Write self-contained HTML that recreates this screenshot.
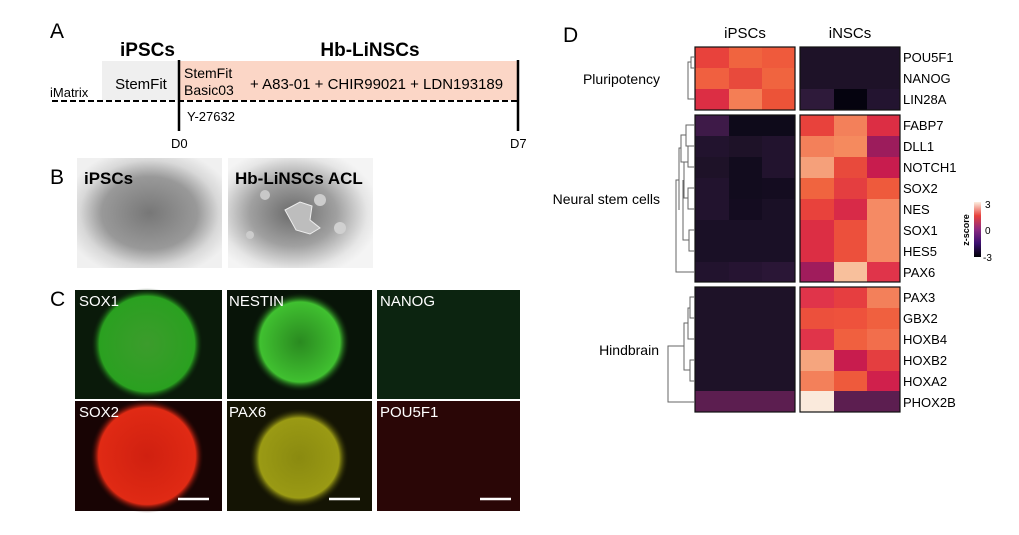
<!DOCTYPE html>
<html><head><meta charset="utf-8"><style>
html,body{margin:0;padding:0;background:#fff;width:1019px;height:535px;overflow:hidden}
svg{display:block;font-family:"Liberation Sans",Arial,sans-serif}
</style></head><body>
<svg width="1019" height="535" viewBox="0 0 1019 535" xmlns="http://www.w3.org/2000/svg">
<defs>
<radialGradient id="gB1" cx="0.5" cy="0.5" r="0.6"><stop offset="0" stop-color="#777"/><stop offset="0.55" stop-color="#999"/><stop offset="0.8" stop-color="#d8d8d8"/><stop offset="1" stop-color="#f0f0f0"/></radialGradient>
<radialGradient id="gB2" cx="0.45" cy="0.5" r="0.6"><stop offset="0" stop-color="#6a6a6a"/><stop offset="0.5" stop-color="#a0a0a0"/><stop offset="0.85" stop-color="#e6e6e6"/><stop offset="1" stop-color="#f4f4f4"/></radialGradient>
<radialGradient id="gG"><stop offset="0" stop-color="#3c9c2c"/><stop offset="0.85" stop-color="#2aa020"/><stop offset="1" stop-color="#0a1a0a" stop-opacity="0"/></radialGradient>
<radialGradient id="gN"><stop offset="0" stop-color="#2a8a20"/><stop offset="0.8" stop-color="#40c030"/><stop offset="1" stop-color="#081408" stop-opacity="0"/></radialGradient>
<radialGradient id="gR"><stop offset="0" stop-color="#d02010"/><stop offset="0.85" stop-color="#e02a14"/><stop offset="1" stop-color="#180404" stop-opacity="0"/></radialGradient>
<radialGradient id="gY"><stop offset="0" stop-color="#8a8a10"/><stop offset="0.8" stop-color="#9a9a14"/><stop offset="1" stop-color="#141404" stop-opacity="0"/></radialGradient>
<linearGradient id="cb" x1="0" y1="1" x2="0" y2="0"><stop offset="0" stop-color="#000004"/><stop offset="0.25" stop-color="#3b0f70"/><stop offset="0.5" stop-color="#8c2981"/><stop offset="0.75" stop-color="#e8423c"/><stop offset="1" stop-color="#fcefe0"/></linearGradient>
</defs>

<!-- Panel A -->
<text x="50" y="38" font-size="21">A</text>
<text x="120" y="56" font-size="19" font-weight="bold">iPSCs</text>
<text x="370" y="56" font-size="19" font-weight="bold" text-anchor="middle">Hb-LiNSCs</text>
<rect x="102" y="61" width="77" height="39" fill="#efefef"/>
<rect x="179" y="61" width="339" height="39" fill="#fbd6c6"/>
<line x1="52" y1="101" x2="518" y2="101" stroke="#000" stroke-width="2" stroke-dasharray="6,3"/>
<line x1="179" y1="60" x2="179" y2="131" stroke="#000" stroke-width="2.5"/>
<line x1="518" y1="60" x2="518" y2="131" stroke="#000" stroke-width="2.5"/>
<text x="50" y="97" font-size="13">iMatrix</text>
<text x="141" y="89" font-size="15" text-anchor="middle">StemFit</text>
<text x="184" y="78" font-size="14">StemFit</text>
<text x="184" y="95" font-size="14">Basic03</text>
<text x="250" y="89" font-size="15">+ A83-01 + CHIR99021 + LDN193189</text>
<text x="187" y="121" font-size="13">Y-27632</text>
<text x="171" y="148" font-size="13">D0</text>
<text x="510" y="148" font-size="13">D7</text>

<!-- Panel B -->
<text x="50" y="184" font-size="21">B</text>
<rect x="77" y="158" width="145" height="110" fill="url(#gB1)"/>
<rect x="228" y="158" width="145" height="110" fill="url(#gB2)"/>
<path d="M285 210 l15 -8 l12 4 l-2 14 l10 8 l-10 6 l-14 -4 z" fill="#bdbdbd" stroke="#eee"/>
<circle cx="265" cy="195" r="5" fill="#c8c8c8"/><circle cx="320" cy="200" r="6" fill="#ccc"/><circle cx="250" cy="235" r="4" fill="#ccc"/><circle cx="340" cy="228" r="6" fill="#d0d0d0"/>
<text x="84" y="184" font-size="17" font-weight="bold">iPSCs</text>
<text x="235" y="184" font-size="17" font-weight="bold">Hb-LiNSCs ACL</text>

<!-- Panel C -->
<text x="50" y="306" font-size="21">C</text>
<rect x="75" y="290" width="147" height="109" fill="#0a1a0a"/>
<circle cx="147" cy="344" r="56" fill="url(#gG)"/>
<rect x="227" y="290" width="145" height="109" fill="#081408"/>
<circle cx="300" cy="342" r="50" fill="url(#gN)"/>
<rect x="377" y="290" width="143" height="109" fill="#0c2410"/>
<rect x="75" y="401" width="147" height="110" fill="#180404"/>
<circle cx="147" cy="456" r="57" fill="url(#gR)"/>
<rect x="227" y="401" width="145" height="110" fill="#141404"/>
<circle cx="299" cy="458" r="50" fill="url(#gY)"/>
<rect x="377" y="401" width="143" height="110" fill="#2a0606"/>
<g fill="#fff" font-size="15">
<text x="79" y="306">SOX1</text><text x="229" y="306">NESTIN</text><text x="380" y="306">NANOG</text>
<text x="79" y="417">SOX2</text><text x="229" y="417">PAX6</text><text x="380" y="417">POU5F1</text>
</g>
<g stroke="#fff" stroke-width="2.5">
<line x1="178" y1="499" x2="209" y2="499"/><line x1="329" y1="499" x2="360" y2="499"/><line x1="480" y1="499" x2="511" y2="499"/>
</g>

<!-- Panel D -->
<text x="563" y="42" font-size="21">D</text>
<text x="745" y="38" font-size="15" text-anchor="middle">iPSCs</text>
<text x="850" y="38" font-size="15" text-anchor="middle">iNSCs</text>
<g font-size="14" text-anchor="end">
<text x="660" y="84">Pluripotency</text>
<text x="660" y="204">Neural stem cells</text>
<text x="659" y="355">Hindbrain</text>
</g>
<g id="hm" shape-rendering="crispEdges">
<!-- pluripotency y 47 rows 21 -->
<rect x="695" y="47" width="34" height="21" fill="#e8423c"/><rect x="729" y="47" width="33" height="21" fill="#f0643f"/><rect x="762" y="47" width="33" height="21" fill="#ef5a3c"/>
<rect x="695" y="68" width="34" height="21" fill="#f06040"/><rect x="729" y="68" width="33" height="21" fill="#e84a3c"/><rect x="762" y="68" width="33" height="21" fill="#f0643f"/>
<rect x="695" y="89" width="34" height="21" fill="#dc2e44"/><rect x="729" y="89" width="33" height="21" fill="#f47e55"/><rect x="762" y="89" width="33" height="21" fill="#ec5338"/>
<rect x="800" y="47" width="100" height="42" fill="#1e1228"/>
<rect x="800" y="89" width="34" height="21" fill="#2e1a3a"/><rect x="834" y="89" width="33" height="21" fill="#05030f"/><rect x="867" y="89" width="33" height="21" fill="#231430"/>
<!-- NSC y 115 rows 20.9 -->
<rect x="695" y="115" width="34" height="21" fill="#3e1a48"/><rect x="729" y="115" width="66" height="21" fill="#0e0a1a"/>
<rect x="695" y="136" width="34" height="21" fill="#22132e"/><rect x="729" y="136" width="33" height="21" fill="#1e1228"/><rect x="762" y="136" width="33" height="21" fill="#22132e"/>
<rect x="695" y="157" width="34" height="21" fill="#1e1228"/><rect x="729" y="157" width="33" height="21" fill="#120c1e"/><rect x="762" y="157" width="33" height="21" fill="#22132e"/>
<rect x="695" y="178" width="34" height="21" fill="#22132e"/><rect x="729" y="178" width="33" height="21" fill="#120c1e"/><rect x="762" y="178" width="33" height="21" fill="#140c20"/>
<rect x="695" y="199" width="34" height="21" fill="#22132e"/><rect x="729" y="199" width="33" height="21" fill="#140c20"/><rect x="762" y="199" width="33" height="21" fill="#1a1026"/>
<rect x="695" y="220" width="100" height="42" fill="#1a1026"/>
<rect x="695" y="262" width="34" height="20" fill="#22132e"/><rect x="729" y="262" width="33" height="20" fill="#261432"/><rect x="762" y="262" width="33" height="20" fill="#2a1636"/>
<rect x="800" y="115" width="34" height="21" fill="#e8423c"/><rect x="834" y="115" width="33" height="21" fill="#f3805a"/><rect x="867" y="115" width="33" height="21" fill="#dc2e44"/>
<rect x="800" y="136" width="34" height="21" fill="#f3805a"/><rect x="834" y="136" width="33" height="21" fill="#f58a5e"/><rect x="867" y="136" width="33" height="21" fill="#9c1c5c"/>
<rect x="800" y="157" width="34" height="21" fill="#f5a07a"/><rect x="834" y="157" width="33" height="21" fill="#e84a3c"/><rect x="867" y="157" width="33" height="21" fill="#c81c4e"/>
<rect x="800" y="178" width="34" height="21" fill="#f0643f"/><rect x="834" y="178" width="33" height="21" fill="#e43e40"/><rect x="867" y="178" width="33" height="21" fill="#ee5a3c"/>
<rect x="800" y="199" width="34" height="21" fill="#e8423c"/><rect x="834" y="199" width="33" height="21" fill="#d82a48"/><rect x="867" y="199" width="33" height="21" fill="#f58a64"/>
<rect x="800" y="220" width="34" height="21" fill="#dc2e44"/><rect x="834" y="220" width="33" height="21" fill="#ec503c"/><rect x="867" y="220" width="33" height="21" fill="#f58a64"/>
<rect x="800" y="241" width="34" height="21" fill="#dc2e44"/><rect x="834" y="241" width="33" height="21" fill="#ec503c"/><rect x="867" y="241" width="33" height="21" fill="#f58a64"/>
<rect x="800" y="262" width="34" height="20" fill="#a01c5c"/><rect x="834" y="262" width="33" height="20" fill="#f8c09c"/><rect x="867" y="262" width="33" height="20" fill="#e0344a"/>
<!-- hindbrain y 287 rows 20.8 -->
<rect x="695" y="287" width="100" height="104" fill="#1e1228"/>
<rect x="695" y="391" width="100" height="21" fill="#5c1e50"/>
<rect x="800" y="287" width="34" height="21" fill="#e0344a"/><rect x="834" y="287" width="33" height="21" fill="#e63e40"/><rect x="867" y="287" width="33" height="21" fill="#f3805a"/>
<rect x="800" y="308" width="34" height="21" fill="#ec503c"/><rect x="834" y="308" width="33" height="21" fill="#ee523c"/><rect x="867" y="308" width="33" height="21" fill="#f0603f"/>
<rect x="800" y="329" width="34" height="21" fill="#e0344a"/><rect x="834" y="329" width="33" height="21" fill="#f0603f"/><rect x="867" y="329" width="33" height="21" fill="#f26e4c"/>
<rect x="800" y="350" width="34" height="21" fill="#f5a57e"/><rect x="834" y="350" width="33" height="21" fill="#c81c4e"/><rect x="867" y="350" width="33" height="21" fill="#e43e40"/>
<rect x="800" y="371" width="34" height="20" fill="#f3805a"/><rect x="834" y="371" width="33" height="20" fill="#ee5a3c"/><rect x="867" y="371" width="33" height="20" fill="#d0204c"/>
<rect x="800" y="391" width="34" height="21" fill="#faeadc"/><rect x="834" y="391" width="66" height="21" fill="#5c1e50"/>
</g>
<g fill="none" stroke="#111" stroke-width="1.2">
<rect x="695" y="47" width="100" height="63"/><rect x="800" y="47" width="100" height="63"/>
<rect x="695" y="115" width="100" height="167"/><rect x="800" y="115" width="100" height="167"/>
<rect x="695" y="287" width="100" height="125"/><rect x="800" y="287" width="100" height="125"/>
</g>
<!-- dendrograms -->
<g fill="none" stroke="#666" stroke-width="1">
<path d="M695 57 H691 V68 H695 M691 62 H688 V99 H695"/>
<path d="M695 125 H686 V146 H695 M695 167 H688 V146 M686 135 H681 V162 H688 M695 188 H688 V209 H695 M688 198 H684 V162 M695 230 H689 V251 H695 M689 240 H683 V180 M681 148 H679 V210 M679 180 H676 V272 H695"/>
<path d="M695 297 H690 V318 H695 M690 308 H688 V339 H695 M695 360 H690 V381 H695 M688 323 H684 V370 H690 M684 346 H668 V402 H695"/>
</g>
<g font-size="13">
<text x="903" y="62">POU5F1</text><text x="903" y="83">NANOG</text><text x="903" y="104">LIN28A</text>
<text x="903" y="130">FABP7</text><text x="903" y="151">DLL1</text><text x="903" y="172">NOTCH1</text><text x="903" y="193">SOX2</text>
<text x="903" y="214">NES</text><text x="903" y="235">SOX1</text><text x="903" y="256">HES5</text><text x="903" y="277">PAX6</text>
<text x="903" y="302">PAX3</text><text x="903" y="323">GBX2</text><text x="903" y="344">HOXB4</text><text x="903" y="365">HOXB2</text>
<text x="903" y="386">HOXA2</text><text x="903" y="407">PHOX2B</text>
</g>
<rect x="974" y="202" width="7" height="55" fill="url(#cb)"/>
<g font-size="10"><text x="985" y="208">3</text><text x="985" y="234">0</text><text x="983" y="261">-3</text></g>
<text x="0" y="0" font-size="9" font-weight="bold" transform="translate(969,230) rotate(-90)" text-anchor="middle">z-score</text>
</svg>
</body></html>
